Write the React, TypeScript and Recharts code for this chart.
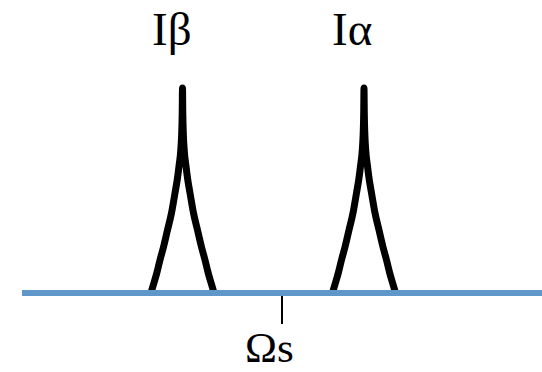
import { ComposedChart, Line, XAxis, YAxis, ReferenceDot } from "recharts";

// Frequency axis: offsets from the Ωs reference; intensity axis: height above baseline
const axisRange = [-282, 260];
const intensityRange = [-79, 293];

// Peak centres (offset units)
const betaCentre = -99.5;
const alphaCentre = 82;

// One half of a peak line shape: offset from centre vs height
const halfOffsets = [0, 0.3, 0.8, 1.5, 3.6, 5.3, 7.5, 11, 15, 19, 22.5, 25.7, 28, 29.8, 31.5];
const halfHeights = [205, 180, 160, 146, 126, 113, 100, 80, 63, 46, 33, 20, 12, 6, 0];

// Baseline extent and the Ωs tick
const baselineX = [-260, 260];
const tickY = [0, -31];

const labelFont = "'Liberation Serif', 'Times New Roman', serif";

function buildPeak(centre: number) {
  const left = halfOffsets
    .map((d, i) => ({ x: centre - d, y: halfHeights[i] }))
    .reverse();
  const right = halfOffsets.slice(1).map((d, i) => ({ x: centre + d, y: halfHeights[i + 1] }));
  return [...left, ...right];
}

const betaPeak = buildPeak(betaCentre);
const alphaPeak = buildPeak(alphaCentre);
const baseline = baselineX.map((x) => ({ x, y: 0 }));
const tick = tickY.map((y) => ({ x: 0, y }));

const TextLabel = ({ text, size }: { text: string; size: number }) =>
  (props: any) => {
    const { x, y, width } = props.viewBox;
    return (
      <text
        x={x + width / 2}
        y={y + width / 2}
        style={{ fontFamily: labelFont }}
        fontSize={size}
        fill="#000"
      >
        {text}
      </text>
    );
  };

export default function App() {
  return (
    <div style={{ position: "absolute", left: 0, top: 0, background: "#fff" }}>
      <ComposedChart width={542} height={372} margin={{ top: 0, right: 0, bottom: 0, left: 0 }}>
        <XAxis type="number" dataKey="x" domain={axisRange} hide allowDataOverflow />
        <YAxis type="number" dataKey="y" domain={intensityRange} hide allowDataOverflow />
        <Line
          data={betaPeak}
          dataKey="y"
          type="monotoneX"
          stroke="#000"
          strokeWidth={7}
          dot={false}
          activeDot={false}
          isAnimationActive={false}
        />
        <Line
          data={alphaPeak}
          dataKey="y"
          type="monotoneX"
          stroke="#000"
          strokeWidth={7}
          dot={false}
          activeDot={false}
          isAnimationActive={false}
        />
        <Line
          data={tick}
          dataKey="y"
          stroke="#000"
          strokeWidth={2}
          dot={false}
          activeDot={false}
          isAnimationActive={false}
        />
        {/* baseline drawn last so it sits over the peak feet */}
        <Line
          data={baseline}
          dataKey="y"
          stroke="#5f97cb"
          strokeWidth={6}
          dot={false}
          activeDot={false}
          isAnimationActive={false}
        />
        <ReferenceDot
          x={-130}
          y={248}
          r={1}
          fill="none"
          stroke="none"
          label={{ content: TextLabel({ text: "Iβ", size: 47 }) }}
        />
        <ReferenceDot
          x={50}
          y={248}
          r={1}
          fill="none"
          stroke="none"
          label={{ content: TextLabel({ text: "Iα", size: 47 }) }}
        />
        <ReferenceDot
          x={-37}
          y={-69}
          r={1}
          fill="none"
          stroke="none"
          label={{ content: TextLabel({ text: "Ωs", size: 43 }) }}
        />
      </ComposedChart>
    </div>
  );
}
